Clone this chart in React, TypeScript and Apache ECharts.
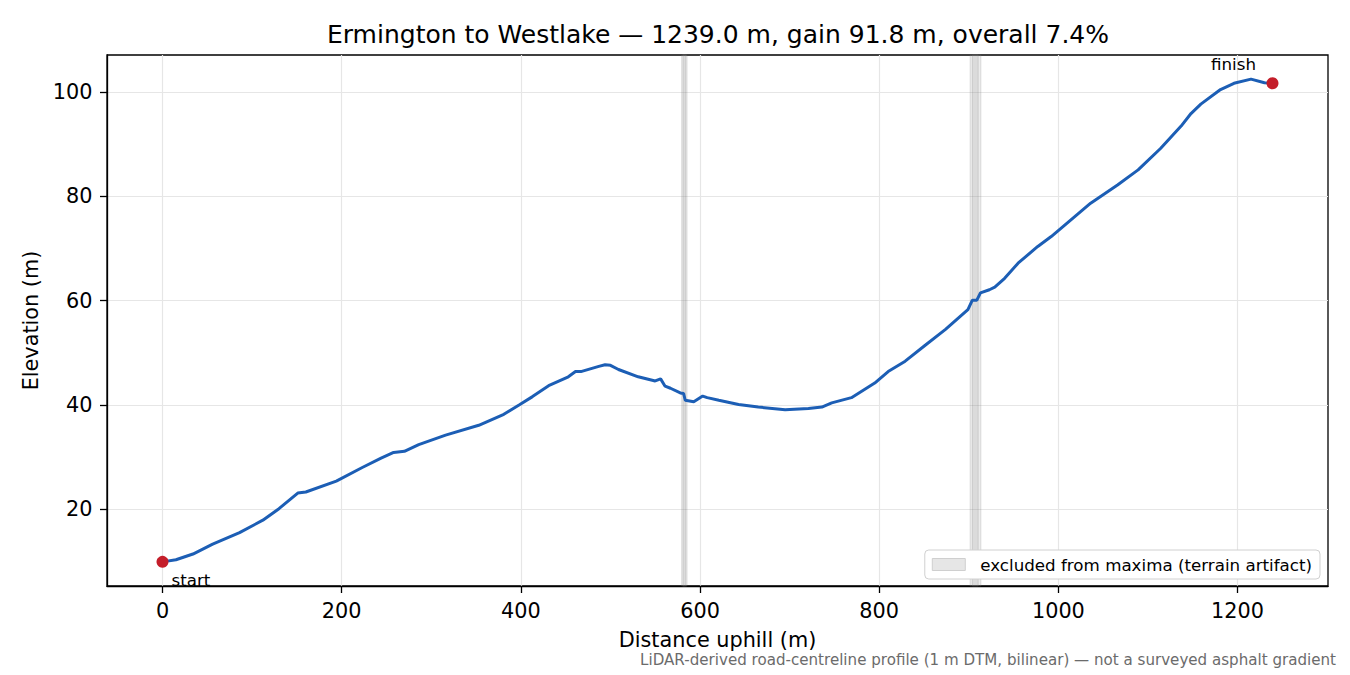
import { useEffect, useRef } from 'react'
import * as echarts from 'echarts'

// distance along the road (m) and elevation (m)
const distance = [
  0, 15, 34, 56, 86, 112, 130, 151, 160, 194, 223, 244, 258, 270, 286, 316, 353, 381, 398, 413,
  431, 453, 461, 467, 487, 494, 500, 509, 531, 550, 556, 561, 567, 578, 581.6, 583.5, 593, 603,
  608, 621, 643, 665, 695, 721, 736, 747, 769, 795, 810, 829, 851, 874, 899, 904, 909, 913, 923,
  929, 940, 955, 977, 992, 1036, 1066, 1089, 1114, 1137, 1148, 1159, 1181, 1196, 1215, 1230, 1239,
]
const elevation = [
  9.9, 10.3, 11.4, 13.3, 15.5, 17.9, 20.1, 23.1, 23.3, 25.4, 28.0, 29.8, 30.9, 31.1, 32.4, 34.2,
  36.1, 38.2, 40.0, 41.6, 43.7, 45.4, 46.4, 46.4, 47.4, 47.7, 47.6, 46.8, 45.4, 44.6, 45.0, 43.6,
  43.2, 42.3, 42.2, 40.9, 40.6, 41.7, 41.4, 40.9, 40.1, 39.6, 39.1, 39.3, 39.6, 40.4, 41.4, 44.2,
  46.4, 48.4, 51.4, 54.5, 58.3, 60.1, 60.1, 61.5, 62.1, 62.6, 64.3, 67.2, 70.4, 72.3, 78.7, 82.2,
  85.1, 89.2, 93.5, 95.9, 97.7, 100.5, 101.7, 102.5, 101.8, 101.7,
]

// segments excluded from the maxima search (start, end in m)
const excludedBands = [
  [579.5, 585.5],
  [581, 584],
  [901.5, 913.5],
  [904, 910.5],
]

const xTicks = [0, 200, 400, 600, 800, 1000, 1200]
const yTicks = [20, 40, 60, 80, 100]

const FONT = 'DejaVu Sans'
const EXCLUDED = 'excluded from maxima (terrain artifact)'

export default function App() {
  const chartRef = useRef<HTMLDivElement>(null)

  useEffect(() => {
    if (!chartRef.current) return
    const chart = echarts.init(chartRef.current, undefined, { renderer: 'svg' })

    const profile = distance.map((d, i) => [d, elevation[i]])
    const last = distance.length - 1
    const span = distance[last] - distance[0]
    const lo = Math.min(...elevation)
    const hi = Math.max(...elevation)

    const axisCommon = {
      type: 'value' as const,
      nameLocation: 'middle' as const,
      nameTextStyle: { fontFamily: FONT, fontSize: 20.8, color: '#000' },
      axisLine: { show: true, onZero: false, lineStyle: { color: '#000', width: 1.3 } },
      splitLine: { show: true, lineStyle: { color: '#e6e6e6', width: 1.2 } },
    }

    const option: echarts.EChartsOption = {
      animation: false,
      backgroundColor: '#fff',
      textStyle: { fontFamily: FONT },
      title: {
        text: 'Ermington to Westlake — 1239.0 m, gain 91.8 m, overall 7.4%',
        left: 713,
        textAlign: 'center',
        top: 17,
        textStyle: { fontFamily: FONT, fontSize: 25, fontWeight: 'normal', color: '#000' },
      },
      grid: {
        left: 107,
        right: 22,
        top: 55,
        bottom: 89,
        show: true,
        borderColor: '#000',
        borderWidth: 1.3,
        backgroundColor: 'transparent',
      },
      legend: {
        right: 30,
        bottom: 96,
        data: [
          {
            name: EXCLUDED,
            icon: 'rect',
            itemStyle: { color: '#e6e6e6', borderColor: '#cfcfcf', borderWidth: 1 },
          },
        ],
        itemWidth: 33,
        itemHeight: 12,
        backgroundColor: '#fff',
        borderColor: '#d0d0d0',
        borderWidth: 1,
        borderRadius: 4,
        padding: [6, 8, 6, 7],
        textStyle: { fontFamily: FONT, fontSize: 16.7, color: '#000', padding: [0, 0, 0, 10] },
        selectedMode: false,
      },
      xAxis: {
        ...axisCommon,
        min: distance[0] - span * 0.05,
        max: distance[last] + span * 0.05,
        name: 'Distance uphill (m)',
        nameGap: 43,
        axisTick: { show: true, customValues: xTicks, length: 7, lineStyle: { color: '#000', width: 1.3 } },
        axisLabel: {
          customValues: xTicks,
          formatter: (v: number) => String(v),
          margin: 14.6,
          fontSize: 20.8,
          color: '#000',
          fontFamily: FONT,
        },
      },
      yAxis: {
        ...axisCommon,
        min: lo - (hi - lo) * 0.05,
        max: hi + (hi - lo) * 0.05,
        name: 'Elevation (m)',
        nameGap: 61,
        axisTick: { show: true, customValues: yTicks, length: 7, lineStyle: { color: '#000', width: 1.3 } },
        axisLabel: {
          customValues: yTicks,
          formatter: (v: number) => String(v),
          margin: 14.6,
          fontSize: 20.8,
          color: '#000',
          fontFamily: FONT,
        },
      },
      series: [
        {
          name: EXCLUDED,
          type: 'line',
          data: [],
          color: '#e6e6e6',
          silent: true,
          markArea: {
            silent: true,
            itemStyle: {
              color: 'rgba(128,128,128,0.15)',
              borderColor: 'rgba(128,128,128,0.22)',
              borderWidth: 1,
            },
            data: excludedBands.map(([a, b]) => [{ xAxis: a }, { xAxis: b }]) as any,
          },
        },
        {
          name: 'profile',
          type: 'line',
          data: profile,
          showSymbol: false,
          symbol: 'none',
          lineStyle: { color: '#1c5eb5', width: 3 },
          z: 3,
        },
        {
          name: 'ends',
          type: 'scatter',
          symbolSize: 12,
          itemStyle: { color: '#c41e2a', opacity: 1 },
          z: 4,
          data: [
            {
              value: profile[0],
              label: {
                show: true,
                formatter: 'start',
                position: [15, 16],
                align: 'left',
                verticalAlign: 'top',
                fontSize: 16.7,
                color: '#000',
                opacity: 1,
                fontFamily: FONT,
              },
            },
            {
              value: profile[last],
              label: {
                show: true,
                formatter: 'finish',
                position: [-33, -22],
                align: 'center',
                verticalAlign: 'top',
                fontSize: 16.7,
                color: '#000',
                opacity: 1,
                fontFamily: FONT,
              },
            },
          ],
        },
      ],
      graphic: [
        {
          type: 'text',
          right: 14,
          top: 652,
          style: {
            text: 'LiDAR-derived road-centreline profile (1 m DTM, bilinear) — not a surveyed asphalt gradient',
            fontFamily: FONT,
            fontSize: 15.1,
            fill: '#6b6b6b',
          },
        },
      ],
    }

    chart.setOption(option)

    return () => {
      chart.dispose()
    }
  }, [])

  return (
    <div
      ref={chartRef}
      style={{ position: 'fixed', left: 0, top: 0, width: 1350, height: 675, background: '#fff' }}
    />
  )
}
